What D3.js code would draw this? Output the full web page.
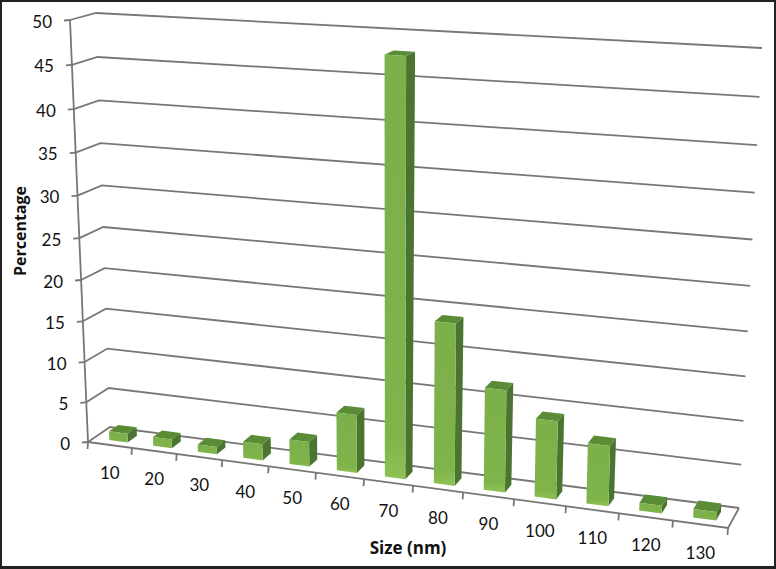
<!DOCTYPE html>
<html><head><meta charset="utf-8">
<script src="https://cdn.jsdelivr.net/npm/d3@7/dist/d3.min.js"></script>
<style>html,body{margin:0;padding:0;background:#fff;overflow:hidden}text{font-family:Lato,"Open Sans",sans-serif;fill:#111}</style>
</head><body><svg id="c" width="776" height="569"></svg>
<script>
const categories = ["10","20","30","40","50","60","70","80","90","100","110","120","130"];
const percentages = [1.1,1.1,0.9,2,3,7,48,19,12,9.1,7,0.9,1];
const valueTicks = [0,5,10,15,20,25,30,35,40,45,50];
const xTitle = "Size (nm)";
const yTitle = "Percentage";

const svg = d3.select("#c");
const W = 776, H = 569;
svg.append("rect").attr("width",W).attr("height",H).attr("fill","#222");
svg.append("rect").attr("x",2).attr("y",2).attr("width",W-4).attr("height",H-5).attr("fill","#fff");

const corners = {
  A:[88,442], B:[110,427], C:[739,508], D:[728,528],
  At:[70,20], Bt:[96,13], Ct:[762,48], Dt:[746,60]
};
const warp = (t,r) => t/(t + r*(1-t));
const xBand = d3.scaleBand().domain(categories).range([0.005,1.0015]).paddingInner(0.58).paddingOuter(0.29);
const xPoint = d3.scaleLinear().domain([0,categories.length]).range([0,1]);
const yScale = d3.scaleLinear().domain([0,50]).range([0,1]);
const lerp = (a,b,t)=>[a[0]+(b[0]-a[0])*t,a[1]+(b[1]-a[1])*t];
function project(u,v,w){
  const su = warp(u,1.13), sv = warp(v,1.07);
  const bot = lerp(lerp(corners.A,corners.D,su),lerp(corners.B,corners.C,su),w);
  const top = lerp(lerp(corners.At,corners.Dt,su),lerp(corners.Bt,corners.Ct,su),w);
  return lerp(bot,top,sv);
}
const line = d3.line();
const gridColor = "#777";

// gridlines
const g = svg.append("g").attr("fill","none").attr("stroke",gridColor).attr("stroke-width",1.8);
g.selectAll("path.grid").data(valueTicks).join("path").attr("class","grid")
  .attr("d",d=>{const v=yScale(d);return line([project(0,v,0),project(0,v,1),project(1,v,1)]);});
// axis frame
g.append("path").attr("d",line([project(0,0,0),project(0,1,0)]));
g.append("path").attr("d",line([project(0,0,0),project(1,0,0),project(1,0,1)]));
// ticks
g.selectAll("path.yt").data(valueTicks).join("path").attr("class","yt")
  .attr("d",d=>{const p=project(0,yScale(d),0);return line([p,[p[0]-6,p[1]+0.5]]);});
g.selectAll("path.xt").data(d3.range(categories.length+1)).join("path").attr("class","xt")
  .attr("d",i=>{const p=project(xPoint(i),0,0);return line([p,[p[0]-0.5,p[1]+7]]);});

// gradient
const defs = svg.append("defs");
const gr = defs.append("linearGradient").attr("id","front").attr("x1",0).attr("x2",0).attr("y1",0).attr("y2",1);
gr.append("stop").attr("offset","0").attr("stop-color","#7bb04a");
gr.append("stop").attr("offset","0.9").attr("stop-color","#7fb44b");
gr.append("stop").attr("offset","1").attr("stop-color","#8fc255");

const w0=0.27,w1=0.7;
const bars = svg.append("g").selectAll("g").data(categories.map((c,i)=>({c,v:percentages[i]}))).join("g");
const face = (d,pts)=>line(pts.map(p=>project(p[0],p[1],p[2])))+"Z";
bars.append("path").attr("fill","#4a7430")
  .attr("d",d=>{const a=xBand(d.c)+xBand.bandwidth(),v=yScale(d.v);return face(d,[[a,0,w0],[a,0,w1],[a,v,w1],[a,v,w0]]);});
bars.append("path").attr("fill","#5a8c36")
  .attr("d",d=>{const a=xBand(d.c),b=a+xBand.bandwidth(),v=yScale(d.v);return face(d,[[a,v,w0],[b,v,w0],[b,v,w1],[a,v,w1]]);});
bars.append("path").attr("fill","url(#front)")
  .attr("d",d=>{const a=xBand(d.c),b=a+xBand.bandwidth(),v=yScale(d.v);return face(d,[[a,0,w0],[b,0,w0],[b,v,w0],[a,v,w0]]);});

// labels
svg.append("g").selectAll("text").data(valueTicks).join("text")
  .attr("x",d=>project(0,yScale(d),0)[0]-18)
  .attr("y",d=>project(0,yScale(d),0)[1]+1)
  .attr("text-anchor","end").attr("dominant-baseline","central")
  .attr("font-size",17).text(d=>d);
svg.append("g").selectAll("text").data(categories).join("text")
  .attr("x",(d,i)=>project(xPoint(i+0.5),0,0)[0])
  .attr("y",(d,i)=>project(xPoint(i+0.5),0,0)[1]+28)
  .attr("text-anchor","middle").attr("dominant-baseline","central")
  .attr("font-size",17).text(d=>d);
svg.append("text").attr("x",408).attr("y",547).attr("text-anchor","middle").attr("dominant-baseline","central")
  .style("font-family","'Open Sans',sans-serif").attr("font-size",17).attr("font-weight",700).text(xTitle);
svg.append("text").attr("transform","translate(20,231) rotate(-90)").attr("text-anchor","middle").attr("dominant-baseline","central")
  .style("font-family","'Open Sans',sans-serif").attr("font-size",16).attr("font-weight",700).text(yTitle);
</script></body></html>
